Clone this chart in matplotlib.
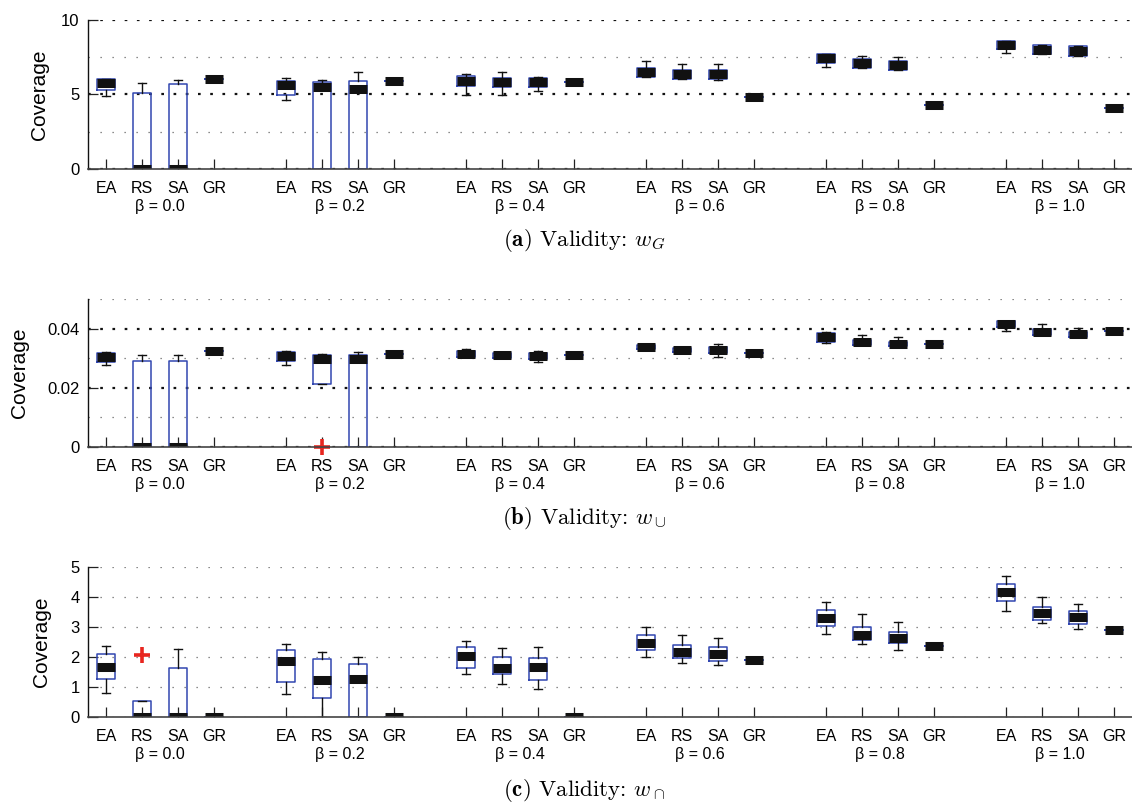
import matplotlib
matplotlib.use("Agg")
import matplotlib.pyplot as plt
from matplotlib.ticker import FixedLocator

plt.rcParams['font.family'] = ['Liberation Sans', 'DejaVu Sans']
plt.rcParams['mathtext.fontset'] = 'cm'

methods = ['EA', 'RS', 'SA', 'GR']
betas = ['β = 0.0', 'β = 0.2', 'β = 0.4', 'β = 0.6', 'β = 0.8', 'β = 1.0']

# panel (a): validity w_G  (order per beta: EA, RS, SA, GR)
med_a = [5.75, 0.0, 0.0, 6.04, 5.64, 5.48, 5.35, 5.93, 5.88, 5.82, 5.82, 5.84,
         6.49, 6.35, 6.35, 4.83, 7.45, 7.11, 6.96, 4.27, 8.32, 8.00, 7.90, 4.12]
q1_a = [5.32, 0.0, 0.0, 6.04, 4.99, 0.0, 0.0, 5.93, 5.55, 5.50, 5.53, 5.84,
        6.20, 6.04, 6.02, 4.83, 7.14, 6.80, 6.62, 4.27, 8.03, 7.72, 7.56, 4.12]
q3_a = [6.04, 5.10, 5.73, 6.04, 5.93, 5.82, 5.93, 5.93, 6.24, 6.13, 6.10, 5.84,
        6.78, 6.67, 6.67, 4.83, 7.74, 7.40, 7.27, 4.27, 8.61, 8.30, 8.23, 4.12]
lo_a = [4.88, 0.0, 0.0, 6.04, 4.65, 0.0, 0.0, 5.93, 4.94, 4.94, 5.23, 5.84,
        6.20, 6.04, 5.97, 4.83, 6.87, 6.80, 6.62, 4.27, 7.79, 7.72, 7.56, 4.12]
hi_a = [6.04, 5.80, 5.95, 6.04, 6.10, 5.97, 6.49, 5.93, 6.40, 6.53, 6.20, 5.84,
        7.25, 7.05, 7.05, 4.83, 7.74, 7.58, 7.52, 4.27, 8.61, 8.30, 8.28, 4.12]
fl_a = [[] for _ in range(24)]

# panel (b): validity w_union
med_b = [0.0303, 0.0, 0.0, 0.0325, 0.0307, 0.0296, 0.0296, 0.0314,
         0.0315, 0.0310, 0.0308, 0.0312, 0.0339, 0.0328, 0.0327, 0.0316,
         0.0371, 0.0354, 0.0348, 0.0348, 0.0415, 0.0388, 0.0381, 0.0393]
q1_b = [0.0287, 0.0, 0.0, 0.0325, 0.0292, 0.0212, 0.0, 0.0314,
        0.0303, 0.0301, 0.0298, 0.0312, 0.0332, 0.0320, 0.0316, 0.0316,
        0.0356, 0.0346, 0.0340, 0.0348, 0.0405, 0.0380, 0.0373, 0.0393]
q3_b = [0.0318, 0.0290, 0.0290, 0.0325, 0.0322, 0.0310, 0.0310, 0.0314,
        0.0325, 0.0318, 0.0316, 0.0312, 0.0345, 0.0336, 0.0338, 0.0316,
        0.0385, 0.0362, 0.0356, 0.0348, 0.0424, 0.0397, 0.0390, 0.0393]
lo_b = [0.0276, 0.0, 0.0, 0.0325, 0.0277, 0.0212, 0.0, 0.0314,
        0.0303, 0.0301, 0.0287, 0.0312, 0.0332, 0.0320, 0.0305, 0.0316,
        0.0352, 0.0346, 0.0340, 0.0348, 0.0391, 0.0380, 0.0373, 0.0393]
hi_b = [0.0320, 0.0311, 0.0312, 0.0325, 0.0325, 0.0314, 0.0322, 0.0314,
        0.0332, 0.0318, 0.0325, 0.0312, 0.0345, 0.0336, 0.0347, 0.0316,
        0.0389, 0.0377, 0.0373, 0.0348, 0.0424, 0.0417, 0.0403, 0.0393]
fl_b = [[] for _ in range(24)]
fl_b[5] = [0.0]

# panel (c): validity w_intersection
med_c = [1.66, 0.0, 0.0, 0.0, 1.88, 1.23, 1.26, 0.0, 2.02, 1.64, 1.66, 0.0,
         2.46, 2.16, 2.09, 1.89, 3.29, 2.72, 2.64, 2.36, 4.16, 3.48, 3.32, 2.89]
q1_c = [1.26, 0.0, 0.0, 0.0, 1.17, 0.64, 0.0, 0.0, 1.65, 1.43, 1.24, 0.0,
        2.23, 1.97, 1.86, 1.89, 3.05, 2.57, 2.46, 2.36, 3.87, 3.25, 3.09, 2.89]
q3_c = [2.10, 0.52, 1.63, 0.0, 2.25, 1.92, 1.77, 0.0, 2.35, 1.99, 1.97, 0.0,
        2.75, 2.40, 2.32, 1.89, 3.57, 3.01, 2.84, 2.36, 4.45, 3.68, 3.55, 2.89]
lo_c = [0.80, 0.0, 0.0, 0.0, 0.76, 0.0, 0.0, 0.0, 1.44, 1.11, 0.92, 0.0,
        1.99, 1.79, 1.74, 1.89, 2.77, 2.42, 2.22, 2.36, 3.53, 3.14, 2.93, 2.89]
hi_c = [2.36, 0.52, 2.26, 0.0, 2.43, 2.17, 2.01, 0.0, 2.54, 2.31, 2.33, 0.0,
        2.99, 2.72, 2.62, 1.89, 3.83, 3.42, 3.16, 2.36, 4.70, 4.00, 3.77, 2.89]
fl_c = [[] for _ in range(24)]
fl_c[1] = [2.07]

yticks_a = [0, 5, 10]
yticks_b = [0, 0.02, 0.04]
yticks_c = [0, 1, 2, 3, 4, 5]
ylabels_a = ['0', '5', '10']
ylabels_b = ['0', '0.02', '0.04']
ylabels_c = ['0', '1', '2', '3', '4', '5']

captions = [r'$\mathbf{(a)}$ Validity: $w_G$',
            r'$\mathbf{(b)}$ Validity: $w_\cup$',
            r'$\mathbf{(c)}$ Validity: $w_\cap$']

BLUE = '#3146b0'
W, H = 1132, 805

positions = [5 * g + m + 1 for g in range(len(betas)) for m in range(len(methods))]


def make_stats(med, q1, q3, lo, hi, fl):
    stats = []
    for i in range(len(med)):
        stats.append(dict(med=med[i], q1=q1[i], q3=q3[i], whislo=lo[i],
                          whishi=hi[i], fliers=fl[i]))
    return stats


def draw_panel(rect, stats, ylim, yticks, ylabels, minors, major_bold,
               ylab_x, caption, cap_y):
    ax = fig.add_axes(rect)
    ax.bxp(stats, positions=positions, widths=0.52, capwidths=0.22,
           showfliers=True, patch_artist=False,
           boxprops=dict(color=BLUE, linewidth=1.1),
           whiskerprops=dict(color='#111111', linewidth=1.0),
           capprops=dict(color='#111111', linewidth=1.0),
           medianprops=dict(color='#111111', linewidth=6.5,
                            solid_capstyle='butt'),
           flierprops=dict(marker='+', markeredgecolor='#e8261f',
                           markersize=11, markeredgewidth=2.6,
                           clip_on=False))
    ax.set_xlim(0.5, 29.5)
    ax.set_ylim(*ylim)
    ax.set_xticks(positions)
    ax.set_xticklabels(methods * len(betas), fontsize=11.5)
    ax.set_yticks(yticks)
    ax.set_yticklabels(ylabels, fontsize=12)
    ax.yaxis.set_minor_locator(FixedLocator(minors))
    ax.tick_params(axis='both', which='major', direction='in', length=7,
                   width=0.9, color='#222222')
    ax.tick_params(axis='x', pad=8.5)
    ax.tick_params(axis='y', pad=6)
    ax.tick_params(axis='y', which='minor', length=0)
    ax.tick_params(axis='x', which='minor', bottom=False)
    for s in ['top', 'right']:
        ax.spines[s].set_visible(False)
    ax.spines['left'].set_color('#111111')
    ax.spines['bottom'].set_color('#444444')
    ax.spines['left'].set_linewidth(1.0)
    ax.spines['bottom'].set_linewidth(1.2)
    if major_bold:
        ax.yaxis.grid(True, which='major', color='#111111', linewidth=1.6,
                      linestyle=(0, (1.2, 4.3)))
    else:
        ax.yaxis.grid(True, which='major', color='#666666', linewidth=0.9,
                      linestyle=(0, (1, 8.6)))
    ax.yaxis.grid(True, which='minor', color='#666666', linewidth=0.9,
                  linestyle=(0, (1, 8.6)))
    ax.set_axisbelow(True)
    ax.set_ylabel('Coverage', fontsize=15)
    ax.yaxis.set_label_coords(ylab_x, 0.5)
    for g, b in enumerate(betas):
        ax.annotate(b, xy=(5 * g + 2.5, 0), xycoords=('data', 'axes fraction'),
                    xytext=(0, -27), textcoords='offset points',
                    ha='center', va='center', fontsize=11.5)
    fig.text(584 / W, 1 - cap_y / H, caption, ha='center', va='center',
             fontsize=16.5, fontfamily='cmr10')
    return ax


fig = plt.figure(figsize=(W / 100, H / 100), dpi=100)

left = 88 / W
width = (W - 88) / W

draw_panel([left, 1 - 169 / H, width, 149 / H],
           make_stats(med_a, q1_a, q3_a, lo_a, hi_a, fl_a),
           (0, 10), yticks_a, ylabels_a, [2.5, 7.5], True,
           (49 - 88) / (W - 88), captions[0], 240)
draw_panel([left, 1 - 447 / H, width, 148 / H],
           make_stats(med_b, q1_b, q3_b, lo_b, hi_b, fl_b),
           (0, 0.05), yticks_b, ylabels_b, [0.01, 0.03, 0.05], True,
           (29 - 88) / (W - 88), captions[1], 519)
draw_panel([left, 1 - 717 / H, width, 150 / H],
           make_stats(med_c, q1_c, q3_c, lo_c, hi_c, fl_c),
           (0, 5), yticks_c, ylabels_c, [], False,
           (51 - 88) / (W - 88), captions[2], 790)

fig.savefig('out.png', dpi=100)
